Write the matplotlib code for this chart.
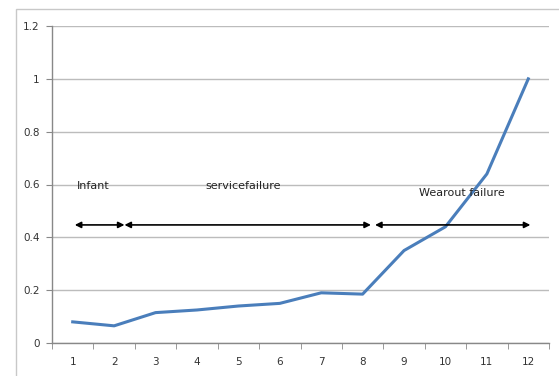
import matplotlib
matplotlib.use('Agg')
from matplotlib import pyplot as plt
from matplotlib.patches import Rectangle

# data
periods = list(range(1, 13))
failure_rate = [0.08, 0.065, 0.115, 0.125, 0.14, 0.15, 0.19, 0.185, 0.35, 0.44, 0.64, 1.0]
y_ticks = [0, 0.2, 0.4, 0.6, 0.8, 1, 1.2]
y_tick_labels = ['0', '0.2', '0.4', '0.6', '0.8', '1', '1.2']
phase_labels = ['Infant', 'servicefailure', 'Wearout failure']
phase_bounds = [(1.05, 2.25), (2.25, 8.2), (8.3, 12.05)]
phase_label_x = [1.1, 4.2, 9.35]

fig = plt.figure(figsize=(5.59, 3.76), dpi=100)
fig.patches.append(Rectangle((16 / 559, -0.01), 1.0, (376 - 9) / 376 + 0.01,
                             transform=fig.transFigure, fill=False,
                             edgecolor='#c8c8c8', linewidth=1))
ax = fig.add_axes([52 / 559, 33 / 376, (549 - 52) / 559, (343 - 26) / 376])

ax.plot(periods, failure_rate, color='#4a7ebb', linewidth=2.2, solid_joinstyle='round')

ax.set_xlim(0.5, 12.5)
ax.set_ylim(0, 1.2)
ax.set_yticks(y_ticks)
ax.set_yticklabels(y_tick_labels)
ax.set_xticks(periods)
ax.set_xticks([p + 0.5 for p in range(0, 13)], minor=True)
ax.tick_params(axis='x', which='major', length=0, pad=10, labelsize=7.5)
ax.tick_params(axis='x', which='minor', length=4, color='#888888', direction='out')
ax.tick_params(axis='y', length=4, color='#888888', labelsize=7.5, pad=5)
for lab in ax.get_xticklabels() + ax.get_yticklabels():
    lab.set_color('#333333')

ax.grid(axis='y', color='#bcbcbc', linewidth=1)
ax.set_axisbelow(True)
for s in ['top', 'right']:
    ax.spines[s].set_visible(False)
for s in ['left', 'bottom']:
    ax.spines[s].set_color('#888888')
    ax.spines[s].set_linewidth(1)

# phase arrows
for (x0, x1) in phase_bounds:
    ax.annotate('', xy=(x0, 0.447), xytext=(x1, 0.447),
                arrowprops=dict(arrowstyle='<|-|>', color='black', lw=1.2,
                                shrinkA=0, shrinkB=0, mutation_scale=9))
for lab, lx, ly in zip(phase_labels, phase_label_x, [0.575, 0.575, 0.55]):
    ax.text(lx, ly, lab, fontsize=8, color='#222222', ha='left', va='bottom')

fig.savefig('out.png', dpi=100)
